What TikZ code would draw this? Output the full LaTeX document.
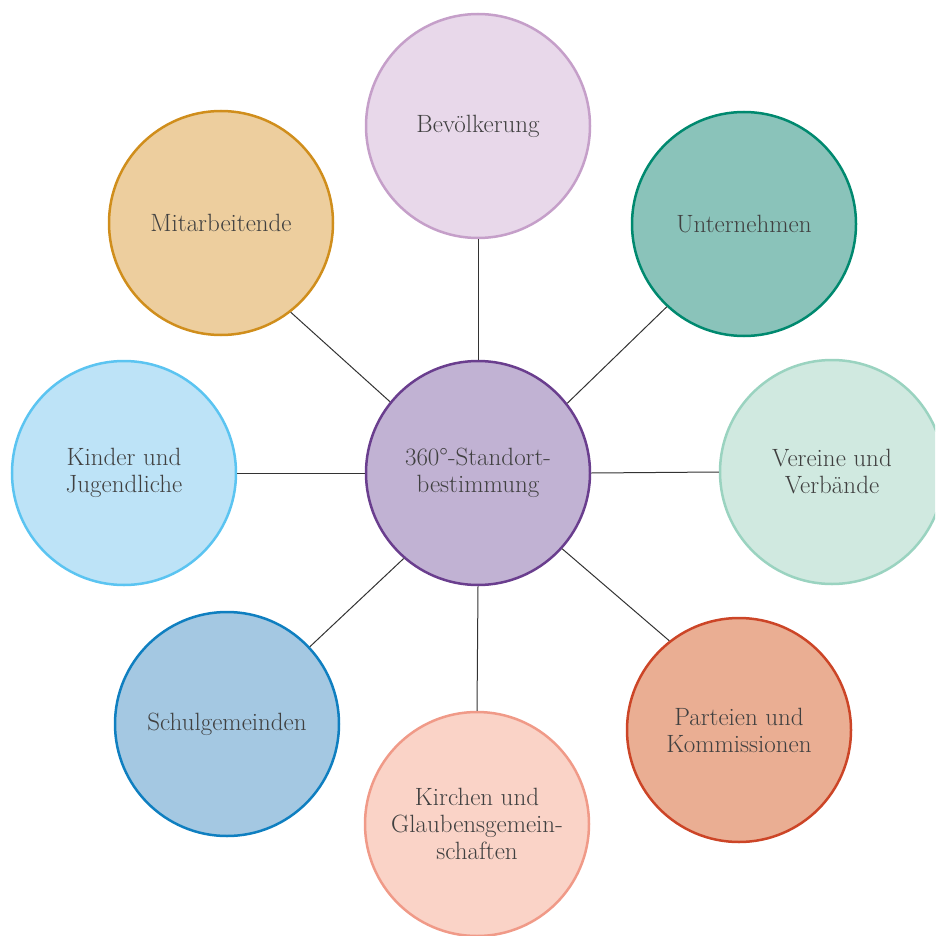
\documentclass[tikz,border=0pt]{standalone}
\usepackage{fontspec}
\definecolor{txt}{HTML}{404040}
\definecolor{cF}{HTML}{C1B2D3}\definecolor{cD}{HTML}{6A3E8E}
\definecolor{bF}{HTML}{E8D8EA}\definecolor{bD}{HTML}{C59FC9}
\definecolor{uF}{HTML}{8AC3BA}\definecolor{uD}{HTML}{00896F}
\definecolor{vF}{HTML}{D0E9E0}\definecolor{vD}{HTML}{9AD3C0}
\definecolor{pF}{HTML}{EAAE93}\definecolor{pD}{HTML}{CC4527}
\definecolor{kF}{HTML}{FAD3C7}\definecolor{kD}{HTML}{F09A88}
\definecolor{sF}{HTML}{A4C8E2}\definecolor{sD}{HTML}{0F7FC0}
\definecolor{jF}{HTML}{BDE3F7}\definecolor{jD}{HTML}{5BC4F1}
\definecolor{mF}{HTML}{EDCE9E}\definecolor{mD}{HTML}{D08E1C}
\tikzset{
  bubble/.style={circle, minimum size=224pt, inner sep=0pt, line width=2.5pt,
    align=center, text=txt, font=\fontsize{25}{27}\selectfont},
  link/.style={line width=1pt, draw=black!80}
}
\begin{document}
\begin{tikzpicture}[x=1pt,y=-1pt]
\useasboundingbox (0,0) rectangle (935,936);
\clip (0,0) rectangle (935,936);
\node[bubble, fill=cF, draw=cD] (C) at (478,473) {360\textdegree-Standort-\\bestimmung};
\node[bubble, fill=bF, draw=bD] (B) at (478,126) {Bevölkerung};
\node[bubble, fill=uF, draw=uD] (U) at (744,224) {Unternehmen};
\node[bubble, fill=vF, draw=vD] (V) at (832,472) {Vereine und\\Verbände};
\node[bubble, fill=pF, draw=pD] (P) at (739,730) {Parteien und\\Kommissionen};
\node[bubble, fill=kF, draw=kD] (K) at (477,824) {Kirchen und\\Glaubensgemein-\\schaften};
\node[bubble, fill=sF, draw=sD] (S) at (227,724) {Schulgemeinden};
\node[bubble, fill=jF, draw=jD] (J) at (124,473) {Kinder und\\Jugendliche};
\node[bubble, fill=mF, draw=mD] (M) at (221,223) {Mitarbeitende};
\draw[link] (C.north) -- (B.south);
\draw[link] (C.south) -- (K.north);
\draw[link] (C.west) -- (J.east);
\draw[link] (C.east) -- (V.west);
\draw[link] (C.38.6) -- (U.227.5);
\draw[link] (C.141) -- (M.-52.4);
\draw[link] (C.-42.9) -- (P.128.6);
\draw[link] (C.-131.8) -- (S.43.2);
\end{tikzpicture}
\end{document}
